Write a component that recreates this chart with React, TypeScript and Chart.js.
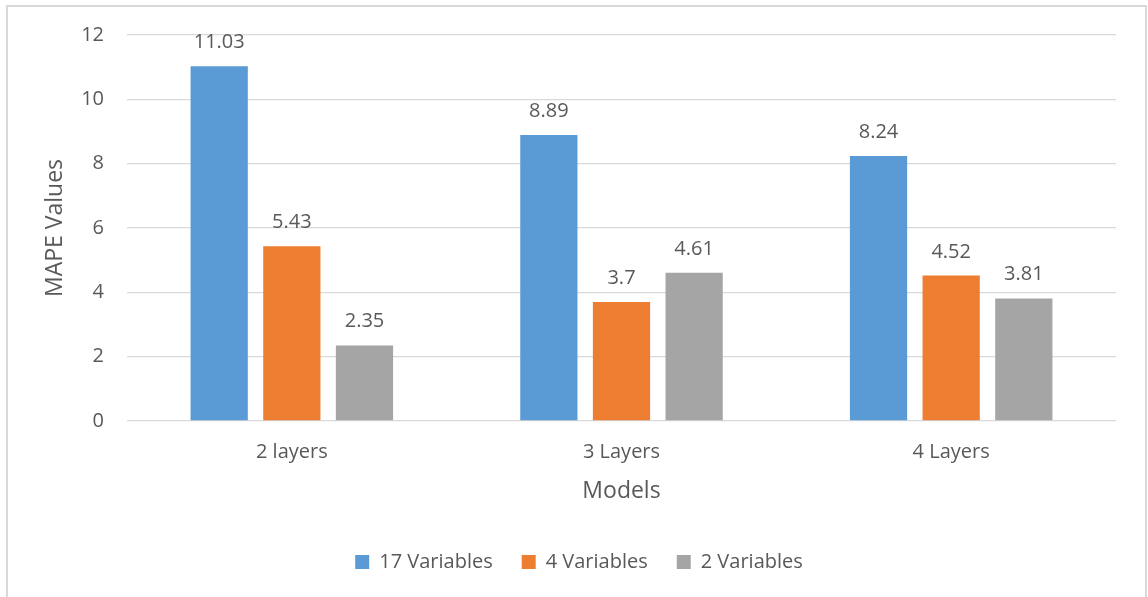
import React, { useEffect, useRef } from "react";
import { Chart, registerables } from "chart.js";

Chart.register(...registerables);

const categories = ["2 layers", "3 Layers", "4 Layers"];
const seriesNames = ["17 Variables", "4 Variables", "2 Variables"];
const vars17 = [11.03, 8.89, 8.24];
const vars4 = [5.43, 3.7, 4.52];
const vars2 = [2.35, 4.61, 3.81];
const colors = ["#5B9BD5", "#ED7D31", "#A5A5A5"];
const yTicks = [0, 2, 4, 6, 8, 10, 12];

const FONT = "'Open Sans', 'Noto Sans', sans-serif";
const TEXT = "#595959";

const valueLabels = {
  id: "valueLabels",
  afterDatasetsDraw(chart: any) {
    const ctx = chart.ctx;
    ctx.save();
    ctx.font = `20px ${FONT}`;
    ctx.fillStyle = TEXT;
    ctx.textAlign = "center";
    ctx.textBaseline = "alphabetic";
    chart.data.datasets.forEach((ds: any, i: number) => {
      const meta = chart.getDatasetMeta(i);
      meta.data.forEach((el: any, j: number) => {
        ctx.fillText(String(ds.data[j]), el.x, el.y - 18);
      });
    });
    ctx.restore();
  },
};

export default function App() {
  const ref = useRef<HTMLCanvasElement>(null);
  useEffect(() => {
    if (!ref.current) return;
    const data = [vars17, vars4, vars2];
    const chart = new Chart(ref.current, {
      type: "bar",
      data: {
        labels: categories,
        datasets: seriesNames.map((name, i) => ({
          label: name,
          data: data[i],
          backgroundColor: colors[i],
          borderWidth: 0,
          categoryPercentage: 0.661,
          barPercentage: 0.788,
        })),
      },
      options: {
        animation: false,
        responsive: false,
        layout: { padding: { left: 42, right: 32, top: 34, bottom: 15 } },
        plugins: {
          tooltip: { enabled: false },
          legend: {
            position: "bottom",
            labels: {
              font: { family: FONT, size: 20 },
              color: TEXT,
              boxWidth: 14,
              boxHeight: 14,
              padding: 29,
            },
          },
        },
        scales: {
          x: {
            afterFit: (scale: any) => {
              scale.height = 102;
            },
            grid: { display: false },
            border: { display: false },
            ticks: { font: { family: FONT, size: 20 }, color: TEXT, padding: 11 },
            title: {
              display: true,
              text: "Models",
              font: { family: FONT, size: 23 },
              color: TEXT,
              padding: { top: 0, bottom: 18 },
            },
          },
          y: {
            min: 0,
            max: 12,
            afterFit: (scale: any) => {
              scale.width = 85;
            },
            afterBuildTicks: (scale: any) => {
              scale.ticks = yTicks.map((v) => ({ value: v }));
            },
            grid: { color: "#D9D9D9", lineWidth: 1.3, drawTicks: false },
            border: { display: false },
            ticks: { font: { family: FONT, size: 20 }, color: TEXT, padding: 23 },
            title: {
              display: true,
              text: "MAPE Values",
              font: { family: FONT, size: 23 },
              color: TEXT,
              padding: { top: 0, bottom: 10 },
            },
          },
        },
      },
      plugins: [valueLabels],
    });
    return () => chart.destroy();
  }, []);
  return (
    <div
      style={{
        position: "fixed",
        left: 0,
        top: 0,
        width: 1148,
        height: 597,
        overflow: "hidden",
        background: "#fff",
      }}
    >
      <div
        style={{
          position: "absolute",
          left: 6,
          top: 5,
          width: 1141,
          height: 700,
          border: "2px solid #D9D9D9",
          boxSizing: "border-box",
        }}
      />
      <canvas
        ref={ref}
        width={1148}
        height={597}
        style={{ position: "absolute", left: 0, top: 0 }}
      />
    </div>
  );
}
